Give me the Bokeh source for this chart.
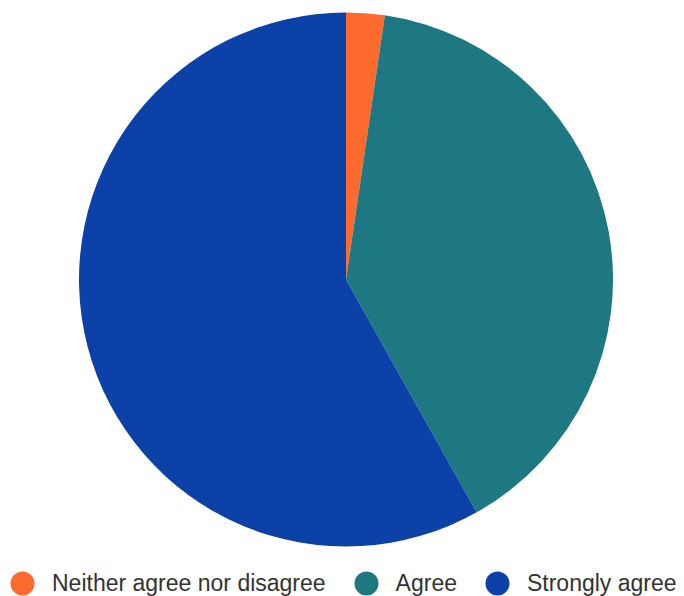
import math
from bokeh.plotting import figure
from bokeh.models import ColumnDataSource, Range1d, Legend, LegendItem
from bokeh.embed import file_html
from bokeh.resources import INLINE

# ---- data ----
categories = ["Neither agree nor disagree", "Agree", "Strongly agree"]
counts = [1, 17, 25]
colors = ["#fd6a2e", "#1d7882", "#0c41a8"]

# ---- derived wedge angles (clockwise from 12 o'clock) ----
total = float(sum(counts))
starts, ends = [], []
acc = 0.0
for c in counts:
    starts.append(math.pi / 2 - 2 * math.pi * acc / total)
    acc += c
    ends.append(math.pi / 2 - 2 * math.pi * acc / total)

W, H = 684, 596
CX, CY, R = 345.5, H - 279, 267

src = ColumnDataSource(dict(
    cat=categories, val=counts, color=colors,
    start=starts, end=ends,
    x=[CX] * len(counts), y=[CY] * len(counts),
))

p = figure(width=W, height=H, output_backend="svg", toolbar_location=None,
           x_range=Range1d(0, W), y_range=Range1d(0, H),
           x_axis_type=None, y_axis_type=None, min_border=0)
p.outline_line_color = None
p.xgrid.visible = False
p.ygrid.visible = False
p.background_fill_color = "white"
p.border_fill_color = "white"

p.wedge(x="x", y="y", radius=R, start_angle="start", end_angle="end",
        direction="clock", fill_color="color", line_color=None, source=src)

# dummy scatter renderer only used for round legend swatches
dots = p.scatter(x="x", y="y", size=0, marker="circle", fill_color="color",
                 line_color=None, source=src)

items = [LegendItem(label=categories[i], renderers=[dots], index=i)
         for i in range(len(categories))]
legend = Legend(items=items, orientation="horizontal",
                location=(-8, -17),
                glyph_width=60, glyph_height=60,
                label_standoff=0, spacing=10,
                padding=0, margin=0,
                border_line_color=None, background_fill_alpha=0,
                label_text_font="Liberation Sans",
                label_text_font_size="23px",
                label_text_color="#333333")
p.add_layout(legend, "center")

with open("out.html", "w") as f:
    f.write(file_html(p, INLINE))
